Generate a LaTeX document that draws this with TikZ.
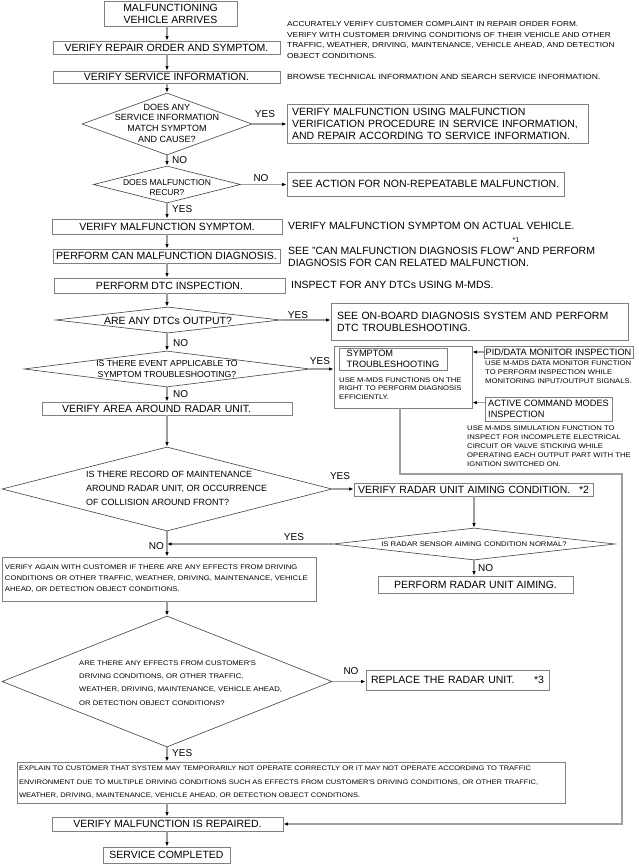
\documentclass[tikz,border=0pt]{standalone}
\usepackage{fontspec}
\setmainfont{Liberation Sans}
\newfontfamily\widesans[FakeStretch=1.15]{Liberation Sans}
\usetikzlibrary{shapes.geometric,arrows.meta,calc}
\definecolor{boxgray}{gray}{0.5}
\definecolor{linegray}{gray}{0.62}
\definecolor{diagray}{gray}{0.25}
\newcommand{\bigsz}{\fontsize{10.5}{12}\selectfont}
\newcommand{\medsz}{\fontsize{9.2}{10.5}\selectfont}
\newcommand{\tagsz}{\fontsize{10}{12}\selectfont}
\newcommand{\sm}[1]{\widesans\fontsize{6.7}{#1}\selectfont}

\begin{document}
\begin{tikzpicture}[x=1pt,y=-1pt,
    box/.style={draw=boxgray,line width=0.8pt,inner sep=0pt,font=\bigsz,align=center},
    lbox/.style={box,align=left},
    dec/.style={draw=diagray,line width=0.6pt,diamond,inner sep=0pt},
    flow/.style={draw=linegray,line width=1.3pt,-{Latex[length=4.5pt,width=3.5pt,color=black]}},
    tag/.style={font=\tagsz,inner sep=0pt},
    note/.style={anchor=west,align=left,inner sep=0pt}]

  \useasboundingbox (0,0) rectangle (639,864);
  \coordinate (sp) at (167,0);

  % main column
  \node[box,minimum width=133,minimum height=25] (start) at (170.5,13.5) {MALFUNCTIONING\\VEHICLE ARRIVES};
  \node[box,minimum width=227,minimum height=13] (repair) at (166.5,47.5) {VERIFY REPAIR ORDER AND SYMPTOM.};
  \node[box,minimum width=227,minimum height=12] (svcinfo) at (166.5,77) {VERIFY SERVICE INFORMATION.};
  \node[dec,minimum width=170,minimum height=62] (d1) at (167,124) {};
  \node[align=center,inner sep=0pt,font=\fontsize{9}{10.7}\selectfont] (d1t) at (167,123)
    {DOES ANY\\SERVICE INFORMATION\\MATCH SYMPTOM\\AND CAUSE?};
  \node[dec,minimum width=147,minimum height=37] (d2) at (167,184.5) {};
  \node[align=center,inner sep=0pt,font=\fontsize{8.5}{10}\selectfont] (d2t) at (167,188)
    {DOES MALFUNCTION\\RECUR?};
  \node[box,minimum width=230,minimum height=15] (vsym) at (167,226.5) {VERIFY MALFUNCTION SYMPTOM.};
  \node[box,minimum width=227,minimum height=14] (can) at (166.5,256) {PERFORM CAN MALFUNCTION DIAGNOSIS.};
  \node[box,minimum width=231,minimum height=15] (dtc) at (169.5,285.5) {PERFORM DTC INSPECTION.};
  \node[dec,minimum width=225,minimum height=26] (d3) at (168,320) {};
  \node[inner sep=0pt,font=\bigsz] (d3t) at (168,321) {ARE ANY DTCs OUTPUT?};
  \node[dec,minimum width=286,minimum height=36] (d4) at (167,369) {};
  \node[align=center,inner sep=0pt,font=\fontsize{8.7}{11.5}\selectfont] (d4t) at (167,369)
    {IS THERE EVENT APPLICABLE TO\\SYMPTOM TROUBLESHOOTING?};
  \node[lbox,minimum width=250,minimum height=13,inner xsep=20pt,text width=210] (area) at (167,408.5)
    {VERIFY AREA AROUND RADAR UNIT.};
  \node[dec,minimum width=330,minimum height=84] (d5) at (167,489) {};
  \node[note,font=\fontsize{9}{14}\selectfont] (d5t) at (86,488)
    {IS THERE RECORD OF MAINTENANCE\\AROUND RADAR UNIT, OR OCCURRENCE\\OF COLLISION AROUND FRONT?};
  \node[lbox,minimum width=314,minimum height=44,inner xsep=3pt,text width=308,font=\sm{11}] (again) at (159,579)
    {VERIFY AGAIN WITH CUSTOMER IF THERE ARE ANY EFFECTS FROM DRIVING\\
     CONDITIONS OR OTHER TRAFFIC, WEATHER, DRIVING, MAINTENANCE, VEHICLE\\
     AHEAD, OR DETECTION OBJECT CONDITIONS.};
  \node[dec,minimum width=330,minimum height=131] (d7) at (167,681.5) {};
  \node[note,font=\sm{13.3}] (d7t) at (79,683)
    {ARE THERE ANY EFFECTS FROM CUSTOMER'S\\DRIVING CONDITIONS, OR OTHER TRAFFIC,\\
     WEATHER, DRIVING, MAINTENANCE, VEHICLE AHEAD,\\OR DETECTION OBJECT CONDITIONS?};
  \node[lbox,minimum width=548,minimum height=41,inner xsep=2pt,text width=544,
        font={\widesans\fontsize{6.55}{13.5}\selectfont}] (explain) at (291,782.5)
    {EXPLAIN TO CUSTOMER THAT SYSTEM MAY TEMPORARILY NOT OPERATE CORRECTLY OR IT MAY NOT OPERATE ACCORDING TO TRAFFIC\\
     ENVIRONMENT DUE TO MULTIPLE DRIVING CONDITIONS SUCH AS EFFECTS FROM CUSTOMER'S DRIVING CONDITIONS, OR OTHER TRAFFIC,\\
     WEATHER, DRIVING, MAINTENANCE, VEHICLE AHEAD, OR DETECTION OBJECT CONDITIONS.};
  \node[box,minimum width=231,minimum height=14] (repaired) at (167.5,824) {VERIFY MALFUNCTION IS REPAIRED.};
  \node[box,minimum width=127,minimum height=16] (done) at (166.5,855) {SERVICE COMPLETED};

  % right hand side
  \node[lbox,minimum width=301,minimum height=39,inner xsep=5pt,text width=291] (vmuse) at (437.5,123.5)
    {VERIFY MALFUNCTION USING MALFUNCTION\\VERIFICATION PROCEDURE IN SERVICE INFORMATION,\\
     AND REPAIR ACCORDING TO SERVICE INFORMATION.};
  \node[box,minimum width=277,minimum height=24] (nonrep) at (425.5,184) {SEE ACTION FOR NON-REPEATABLE MALFUNCTION.};
  \node[lbox,minimum width=297,minimum height=37,inner xsep=6pt,text width=285] (onboard) at (479.5,321.5)
    {SEE ON-BOARD DIAGNOSIS SYSTEM AND PERFORM\\DTC TROUBLESHOOTING.};
  \node[box,minimum width=138,minimum height=62] (symp) at (403,377) {};
  \node[box,align=left,font=\medsz,minimum width=108,minimum height=22] (sympin) at (393,359)
    {SYMPTOM\\TROUBLESHOOTING};
  \node[note,font=\sm{8.5}] (sympnote) at (339,388.5)
    {USE M-MDS FUNCTIONS ON THE\\RIGHT TO PERFORM DIAGNOSIS\\EFFICIENTLY.};
  \node[box,font=\medsz,minimum width=149,minimum height=12] (pid) at (558.5,352) {PID/DATA MONITOR INSPECTION};
  \node[note,font=\sm{9}] (pidnote) at (485,372)
    {USE M-MDS DATA MONITOR FUNCTION\\TO PERFORM INSPECTION WHILE\\MONITORING INPUT/OUTPUT SIGNALS.};
  \node[box,align=left,font=\medsz,minimum width=127,minimum height=24] (active) at (548.5,409)
    {ACTIVE COMMAND MODES\\INSPECTION};
  \node[note,font=\sm{9}] (activenote) at (467,446)
    {USE M-MDS SIMULATION FUNCTION TO\\INSPECT FOR INCOMPLETE ELECTRICAL\\CIRCUIT OR VALVE STICKING WHILE\\
     OPERATING EACH OUTPUT PART WITH THE\\IGNITION SWITCHED ON.};
  \node[lbox,minimum width=239,minimum height=13,inner xsep=4pt,text width=231] (aim) at (473.5,489.5)
    {VERIFY RADAR UNIT AIMING CONDITION.\hfill*2};
  \node[dec,minimum width=282,minimum height=32] (d6) at (474,544) {};
  \node[inner sep=0pt,font=\sm{9}] (d6t) at (474,544) {IS RADAR SENSOR AIMING CONDITION NORMAL?};
  \node[box,minimum width=195,minimum height=17] (aimdo) at (475.5,584.5) {PERFORM RADAR UNIT AIMING.};
  \node[lbox,minimum width=183,minimum height=20,inner xsep=5pt,text width=173] (replace) at (457.5,680)
    {REPLACE THE RADAR UNIT.\hfill*3\hspace*{6pt}};

  % notes
  \node[note,font={\widesans\fontsize{7.2}{10.7}\selectfont}] (note1) at (287,40)
    {ACCURATELY VERIFY CUSTOMER COMPLAINT IN REPAIR ORDER FORM.\\
     VERIFY WITH CUSTOMER DRIVING CONDITIONS OF THEIR VEHICLE AND OTHER\\
     TRAFFIC, WEATHER, DRIVING, MAINTENANCE, VEHICLE AHEAD, AND DETECTION\\
     OBJECT CONDITIONS.};
  \node[note,font={\widesans\fontsize{7.45}{9}\selectfont}] (note2) at (287,77)
    {BROWSE TECHNICAL INFORMATION AND SEARCH SERVICE INFORMATION.};
  \node[note,font=\bigsz] (note3) at (288,226) {VERIFY MALFUNCTION SYMPTOM ON ACTUAL VEHICLE.};
  \node[note,font=\bigsz] (note4) at (288,257)
    {SEE "CAN MALFUNCTION DIAGNOSIS FLOW" AND PERFORM\\DIAGNOSIS FOR CAN RELATED MALFUNCTION.};
  \node[inner sep=0pt,font=\fontsize{7}{8}\selectfont] (note4star) at (516,240) {*1};
  \node[note,font=\bigsz] (note5) at (291,285) {INSPECT FOR ANY DTCs USING M-MDS.};

  % connectors down the main column
  \foreach \a/\b in {start/repair,repair/svcinfo,svcinfo/d1,d1/d2,d2/vsym,vsym/can,can/dtc,dtc/d3,
                     d3/d4,d4/area,area/d5,d5/again,again/d7,d7/explain,explain/repaired,repaired/done}
    \draw[flow] (\a.south -| sp) -- (\b.north -| sp);

  % connectors to the right
  \foreach \a/\b in {d1/vmuse,d2/nonrep,d3/onboard,d4/symp,d5/aim,d7/replace}
    \draw[flow] (\a.east) -- (\a.east -| \b.west);
  \draw[flow] (pid.west) -- (pid.west -| symp.east);
  \coordinate (actin) at ($(active.north west)+(0,6)$);
  \draw[flow] (actin) -- (actin -| symp.east);
  \draw[flow] (aim.south -| d6.north) -- (d6.north);
  \draw[flow] (d6.south) -- (d6.south |- aimdo.north);
  \draw[flow] (d6.west) -- (d6.west -| sp);

  % return line
  \coordinate (ret) at (622,474);
  \coordinate (symout) at ($(symp.south)+(-3,0)$);
  \draw[flow] (symout) -- (symout |- ret) -- (ret) -- (ret |- repaired.east) -- (repaired.east);

  % yes / no
  \node[tag] (yes1) at (265,114) {YES};
  \node[tag,anchor=west] (no1) at (172,160) {NO};
  \node[tag] (no2) at (261,178) {NO};
  \node[tag,anchor=west] (yes2) at (172,209) {YES};
  \node[tag] (yes3) at (298,315) {YES};
  \node[tag,anchor=west] (no3) at (173,343) {NO};
  \node[tag] (yes4) at (320,361) {YES};
  \node[tag,anchor=west] (no4) at (173,394) {NO};
  \node[tag] (yes5) at (340,476) {YES};
  \node[tag,anchor=east] (no5) at (164,546) {NO};
  \node[tag] (yes6) at (294,537) {YES};
  \node[tag,anchor=west] (no6) at (478,568) {NO};
  \node[tag] (no7) at (351,671) {NO};
  \node[tag,anchor=west] (yes7) at (172,753) {YES};
\end{tikzpicture}
\end{document}
